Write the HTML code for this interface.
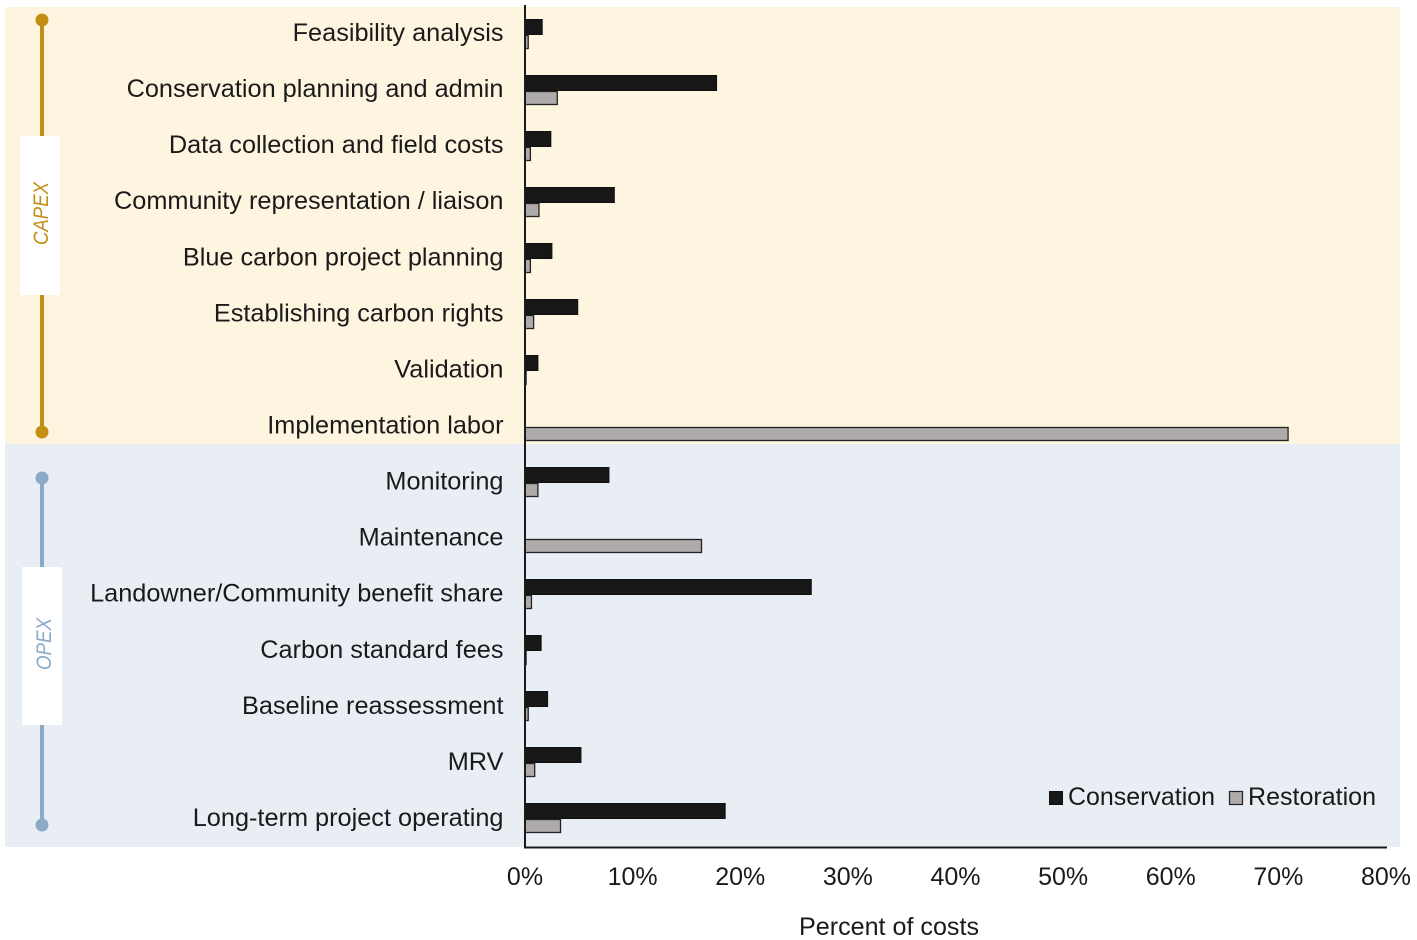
<!DOCTYPE html>
<html>
<head>
<meta charset="utf-8">
<title>Percent of costs</title>
<style>
html,body{margin:0;padding:0;background:#fff;width:1417px;height:940px;overflow:hidden}
svg{display:block}
text{font-family:"Liberation Sans",sans-serif;fill:#1a1a1a}
</style>
</head>
<body>
<svg id="chart" xmlns="http://www.w3.org/2000/svg" width="1417" height="940" viewBox="0 0 1417 940">
  <rect x="5" y="7" width="1395" height="437" fill="#fef5e0"/>
  <rect x="5" y="444" width="1395" height="403" fill="#e9eef5"/>

  <g>
    <line x1="42" y1="20" x2="42" y2="432" stroke="#c28f14" stroke-width="4"/>
    <circle cx="42" cy="20" r="6.5" fill="#c28f14"/>
    <circle cx="42" cy="432" r="6.5" fill="#c28f14"/>
    <rect x="20" y="136" width="40" height="159" fill="#fff"/>
    <text transform="translate(48,213.5) rotate(-90)" text-anchor="middle" font-size="21" font-style="italic" textLength="63" lengthAdjust="spacingAndGlyphs" style="fill:#c28f14">CAPEX</text>
  </g>
  <g>
    <line x1="42" y1="478" x2="42" y2="825" stroke="#8aaac8" stroke-width="4"/>
    <circle cx="42" cy="478" r="6.5" fill="#8aaac8"/>
    <circle cx="42" cy="825" r="6.5" fill="#8aaac8"/>
    <rect x="22" y="567" width="40" height="158" fill="#fff"/>
    <text transform="translate(51,644) rotate(-90)" text-anchor="middle" font-size="21" font-style="italic" textLength="52" lengthAdjust="spacingAndGlyphs" style="fill:#8aaac8">OPEX</text>
  </g>

  <g id="bars"></g>
  <g id="cat-labels"></g>
  <g id="x-ticks"></g>

  <line x1="525" y1="5" x2="525" y2="848" stroke="#1a1a1a" stroke-width="2"/>
  <line x1="524" y1="847.5" x2="1387" y2="847.5" stroke="#1a1a1a" stroke-width="2"/>

  <text x="889" y="935" text-anchor="middle" font-size="25" textLength="180" lengthAdjust="spacingAndGlyphs">Percent of costs</text>

  <g>
    <g>
      <rect x="1049.5" y="791.5" width="13" height="13" fill="#171717" stroke="#111" stroke-width="1"/>
      <text x="1068" y="805" font-size="25" textLength="147" lengthAdjust="spacingAndGlyphs">Conservation</text>
    </g>
    <g>
      <rect x="1229.5" y="791.5" width="13" height="13" fill="#b0abab" stroke="#222" stroke-width="1.2"/>
      <text x="1248" y="805" font-size="25" textLength="128" lengthAdjust="spacingAndGlyphs">Restoration</text>
    </g>
  </g>
</svg>
<script>
var categories = ["Feasibility analysis","Conservation planning and admin","Data collection and field costs","Community representation / liaison","Blue carbon project planning","Establishing carbon rights","Validation","Implementation labor","Monitoring","Maintenance","Landowner/Community benefit share","Carbon standard fees","Baseline reassessment","MRV","Long-term project operating"];
var conservation = [1.6,17.8,2.4,8.3,2.5,4.9,1.2,0,7.8,0,26.6,1.5,2.1,5.2,18.6];
var restoration = [0.3,3.0,0.5,1.3,0.5,0.8,0.1,70.9,1.2,16.4,0.6,0.1,0.3,0.9,3.3];
var tickValues = [0,10,20,30,40,50,60,70,80];
var axisMax = 80;

var NS = "http://www.w3.org/2000/svg";
function xScale(v){ return 525 + (v / axisMax) * 861; }
function bandCenter(i){ return 7 + (i + 0.5) * (840 / categories.length); }

var barsG = document.getElementById("bars");
var labelsG = document.getElementById("cat-labels");
var ticksG = document.getElementById("x-ticks");

categories.forEach(function(name, i){
  var c = bandCenter(i);
  var slug = name.toLowerCase().replace(/[^a-z0-9]+/g, "-");

  if (conservation[i] > 0) {
    var r1 = document.createElementNS(NS, "rect");
    r1.setAttribute("x", 525);
    r1.setAttribute("y", c - 15.5);
    r1.setAttribute("width", xScale(conservation[i]) - 525);
    r1.setAttribute("height", 15);
    r1.setAttribute("fill", "#171717");
    r1.setAttribute("stroke", "#111");
    r1.setAttribute("stroke-width", "1");
    
    
    barsG.appendChild(r1);
  }

  var r2 = document.createElementNS(NS, "rect");
  r2.setAttribute("x", 525);
  r2.setAttribute("y", c + 0.5);
  r2.setAttribute("width", xScale(restoration[i]) - 525);
  r2.setAttribute("height", 13);
  r2.setAttribute("fill", "#b0abab");
  r2.setAttribute("stroke", "#222");
  r2.setAttribute("stroke-width", "1.3");
  
  
  barsG.appendChild(r2);

  var t = document.createElementNS(NS, "text");
  t.setAttribute("x", 503.5);
  t.setAttribute("y", c + 6 + i * 0.07);
  t.setAttribute("text-anchor", "end");
  t.setAttribute("font-size", "25.3");
  t.textContent = name;
  
  
  labelsG.appendChild(t);
});

tickValues.forEach(function(v){
  var t = document.createElementNS(NS, "text");
  t.setAttribute("x", xScale(v));
  t.setAttribute("y", 885);
  t.setAttribute("text-anchor", "middle");
  t.setAttribute("font-size", "25");
  t.textContent = v + "%";
  
  
  ticksG.appendChild(t);
});
</script>
</body>
</html>
